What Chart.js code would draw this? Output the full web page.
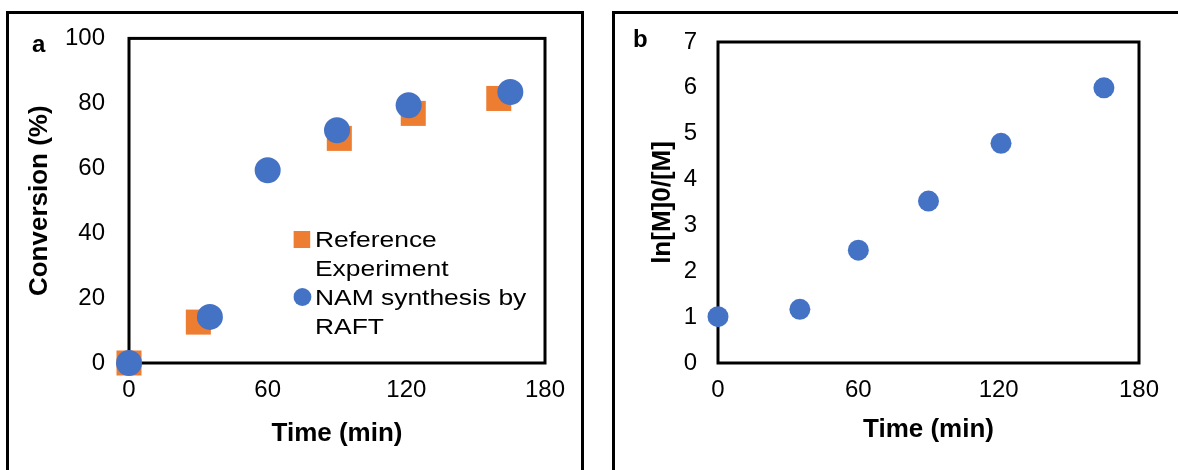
<!DOCTYPE html>
<html>
<head>
<meta charset="utf-8">
<script src="https://cdn.jsdelivr.net/npm/chart.js@4.4.1/dist/chart.umd.min.js"></script>
<style>
  body { margin: 0; width: 1178px; height: 470px; background: #fff; overflow: hidden; position: relative;
         font-family: Arial, "Liberation Sans", sans-serif; }
  .panel { position: absolute; top: 11px; height: 480px; border: 3px solid #000; box-sizing: border-box; }
  #panelA { left: 6px; width: 578px; }
  #panelB { left: 612px; width: 600px; }
  .wrap { position: absolute; top: 0; height: 470px; }
  #wrapA { left: 0; width: 600px; }
  #wrapB { left: 600px; width: 578px; }
  .tag { position: absolute; font-weight: bold; font-size: 24px; line-height: 24px; color: #000; }
  #legendA { position: absolute; left: 315px; top: 225px; width: 195px; font-size: 22px; line-height: 29px;
             color: #000; transform: scaleX(1.2); transform-origin: left top; }
  #legendA .item { position: relative; }
  #legendA .mark { position: absolute; left: -18.3px; }
</style>
</head>
<body>
<div class="panel" id="panelA"></div>
<div class="panel" id="panelB"></div>
<div class="wrap" id="wrapA"><canvas id="chartA"></canvas></div>
<div class="wrap" id="wrapB"><canvas id="chartB"></canvas></div>
<div class="tag" style="left:32px;top:32px">a</div>
<div class="tag" style="left:633px;top:27px">b</div>
<div id="legendA"></div>

<script>
// conversion vs time, two runs
const timeRef = [0, 30, 91, 123, 160];
const convRef = [0, 12.6, 69.2, 76.9, 81.5];
const timeRaft = [0, 35, 60, 90, 121, 165];
const convRaft = [0, 14.2, 59.4, 71.7, 79.4, 83.5];
// first-order plot for the RAFT run
const lnRatio = [1.01, 1.17, 2.46, 3.53, 4.79, 6.0];

const xTicks = [0, 60, 120, 180];
const ORANGE = '#ED7D31';
const BLUE = '#4472C4';

Chart.defaults.font.family = 'Arial, "Liberation Sans", sans-serif';
Chart.defaults.color = '#000';

const toPoints = (xs, ys) => xs.map((x, i) => ({ x, y: ys[i] }));

// black box round the plot area, under the markers
const plotFrame = {
  id: 'plotFrame',
  beforeDatasetsDraw(chart) {
    const { ctx, chartArea: a } = chart;
    ctx.save();
    ctx.strokeStyle = '#000';
    ctx.lineWidth = 3;
    ctx.strokeRect(a.left, a.top, a.right - a.left, a.bottom - a.top);
    ctx.restore();
  }
};

function makeChart(canvas, datasets, cfg) {
  return new Chart(canvas, {
    type: 'scatter',
    data: { datasets },
    options: {
      responsive: true,
      maintainAspectRatio: false,
      animation: false,
      layout: { padding: cfg.padding },
      plugins: { legend: { display: false }, tooltip: { enabled: false } },
      scales: {
        x: {
          min: 0, max: 180,
          afterBuildTicks: s => { s.ticks = xTicks.map(v => ({ value: v })); },
          afterFit: s => { s.height = cfg.xHeight; },
          grid: { display: false, drawTicks: false },
          border: { display: false },
          ticks: { font: { size: 24 }, padding: 13 },
          title: {
            display: true, text: 'Time (min)',
            font: { size: 26, weight: 'bold', lineHeight: 1.2 },
            padding: { top: 0, bottom: cfg.xTitlePad }
          }
        },
        y: {
          min: 0, max: cfg.yMax,
          afterFit: s => { s.width = cfg.yWidth; },
          grid: { display: false, drawTicks: false },
          border: { display: false },
          ticks: { stepSize: cfg.yStep, font: { size: 24 }, padding: cfg.yTickPad },
          title: {
            display: true, text: cfg.yTitle,
            font: { size: 26, weight: 'bold', lineHeight: 1.2 },
            padding: { top: cfg.yTitlePad, bottom: 0 }
          }
        }
      }
    },
    plugins: [plotFrame]
  });
}

const chartA = makeChart(document.getElementById('chartA'), [
  {
    label: 'Reference Experiment',
    data: toPoints(timeRef, convRef),
    pointStyle: 'rect', pointRadius: 17.7, pointHoverRadius: 17.7,
    backgroundColor: ORANGE, borderWidth: 0, clip: false, order: 1
  },
  {
    label: 'NAM synthesis by RAFT',
    data: toPoints(timeRaft, convRaft),
    pointStyle: 'circle', pointRadius: 13, pointHoverRadius: 13,
    backgroundColor: BLUE, borderWidth: 0, clip: false, order: 0
  }
], {
  padding: { left: 0, top: 38, right: 55, bottom: 0 },
  yWidth: 129, xHeight: 107, yMax: 100, yStep: 20,
  yTickPad: 24, yTitle: 'Conversion (%)', yTitlePad: 24, xTitlePad: 21
});

makeChart(document.getElementById('chartB'), [
  {
    label: 'ln[M]0/[M]',
    data: toPoints(timeRaft, lnRatio),
    pointStyle: 'circle', pointRadius: 10.5, pointHoverRadius: 10.5,
    backgroundColor: BLUE, borderWidth: 0, clip: false
  }
], {
  padding: { left: 0, top: 42, right: 39, bottom: 0 },
  yWidth: 118, xHeight: 107, yMax: 7, yStep: 1,
  yTickPad: 21, yTitle: 'ln[M]0/[M]', yTitlePad: 47, xTitlePad: 25
});

// legend for panel a, built from the chart's own datasets
const legend = document.getElementById('legendA');
chartA.data.datasets.forEach(ds => {
  const item = document.createElement('div');
  item.className = 'item';
  const mark = document.createElement('span');
  mark.className = 'mark';
  if (ds.pointStyle === 'rect') {
    Object.assign(mark.style, { width: '14.2px', height: '17px', top: '6px', background: ds.backgroundColor });
  } else {
    Object.assign(mark.style, { width: '15px', height: '18px', top: '5px', borderRadius: '50%', background: ds.backgroundColor });
  }
  item.appendChild(mark);
  item.appendChild(document.createTextNode(ds.label));
  legend.appendChild(item);
});
</script>
</body>
</html>
